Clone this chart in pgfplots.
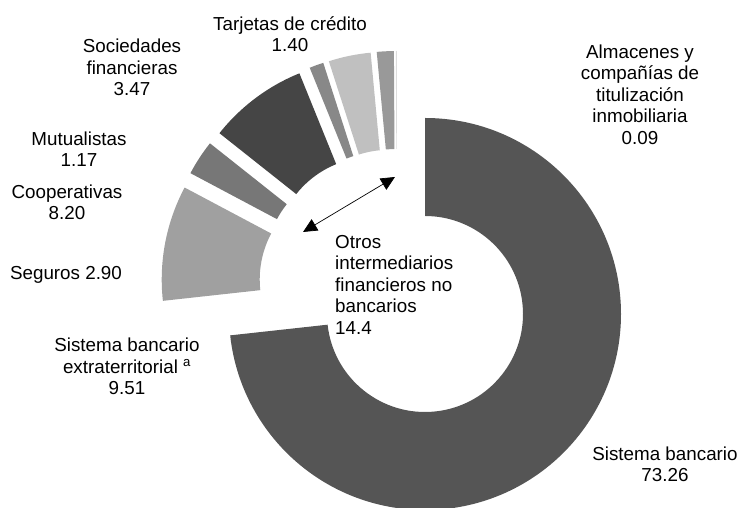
\documentclass[border=0pt]{standalone}
\usepackage{pgfplots}
\pgfplotsset{compat=1.18}
\usepackage{pgfplotstable}
\usepackage{fontspec}
\setmainfont{Liberation Sans}
\usetikzlibrary{arrows.meta}
\definecolor{cA}{HTML}{555555}
\definecolor{cB}{HTML}{A0A0A0}
\definecolor{cC}{HTML}{777777}
\definecolor{cD}{HTML}{454545}
\definecolor{cE}{HTML}{888888}
\definecolor{cF}{HTML}{C0C0C0}
\definecolor{cG}{HTML}{999999}
\definecolor{cH}{HTML}{DDDDDD}
% share (%), exploded?, colour
\pgfplotstableread{
value explode col
73.26 0 cA
9.51 1 cB
2.90 1 cC
8.20 1 cD
1.17 1 cE
3.47 1 cF
1.40 1 cG
0.09 1 cH
}\donut
\begin{document}
\begin{tikzpicture}
\begin{axis}[x=1pt, y=1pt, xmin=0, xmax=739, ymin=0, ymax=508,
  hide axis, scale only axis, anchor=south west, at={(0,0)}, clip=true]
\pgfplotsextra{
  \xdef\angstart{90}
  \foreach \i in {0,...,7}{
    \pgfplotstablegetelem{\i}{value}\of\donut \let\v\pgfplotsretval
    \pgfplotstablegetelem{\i}{explode}\of\donut \let\e\pgfplotsretval
    \pgfplotstablegetelem{\i}{col}\of\donut \let\c\pgfplotsretval
    \pgfmathsetmacro\aA{\angstart}
    \pgfmathsetmacro\aB{\angstart-3.6*\v}
    \pgfmathsetmacro\m{(\aA+\aB)/2}
    \pgfmathsetmacro\cx{425+\e*(-28+40*cos(\m))}
    \pgfmathsetmacro\cy{194+\e*(27+40*sin(\m))}
    \pgfmathsetmacro\xa{\cx+196*cos(\aA)}
    \pgfmathsetmacro\ya{\cy+196*sin(\aA)}
    \pgfmathsetmacro\xb{\cx+98*cos(\aB)}
    \pgfmathsetmacro\yb{\cy+98*sin(\aB)}
    \fill[color=\c] (axis cs:\xa,\ya) arc[start angle=\aA, end angle=\aB, radius=196pt]
      -- (axis cs:\xb,\yb) arc[start angle=\aB, end angle=\aA, radius=98pt] -- cycle;
    \xdef\angstart{\aB}
  }
}
\addplot[black, line width=0.7pt, {Triangle[length=14pt,width=13pt]}-{Triangle[length=14pt,width=13pt]}]
  coordinates {(303,276) (395,331)};
\begin{scope}[every node/.style={font=\fontsize{18.8}{21.5}\selectfont, align=center, inner sep=0pt}]
\node at (axis cs:290,474) {Tarjetas de crédito\\1.40};
\node at (axis cs:132,440.5) {Sociedades\\financieras\\3.47};
\node at (axis cs:79,359) {Mutualistas\\1.17};
\node at (axis cs:67,305.5) {Cooperativas\\8.20};
\node at (axis cs:66,233) {Seguros 2.90};
\node at (axis cs:127,141.5) {Sistema bancario\\extraterritorial \textsuperscript{a}\\9.51};
\node[align=left, anchor=west] at (axis cs:335,223.5) {Otros\\intermediarios\\financieros no\\bancarios\\14.4};
\node at (axis cs:640,413.5) {Almacenes y\\compañías de\\titulización\\inmobiliaria\\0.09};
\node at (axis cs:665,43.5) {Sistema bancario\\73.26};
\end{scope}
\end{axis}
\pgfresetboundingbox
\path (0,0) rectangle (739pt,508pt);
\end{tikzpicture}
\end{document}
